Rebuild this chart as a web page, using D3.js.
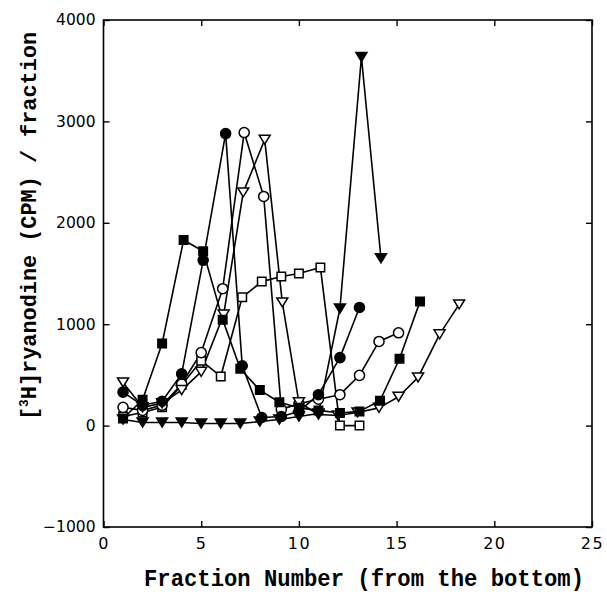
<!DOCTYPE html>
<html>
<head>
<meta charset="utf-8">
<script src="https://cdn.jsdelivr.net/npm/d3@7"></script>
<style>
  html, body { margin: 0; padding: 0; background: #fff; }
  svg { display: block; }
</style>
</head>
<body>
<svg id="chart" width="607" height="596"></svg>
<script>
// ---- Data ----
const xTicks = [0, 5, 10, 15, 20, 25];
const yTicks = [-1000, 0, 1000, 2000, 3000, 4000];

// open squares
const openSquareX = [1, 2, 3, 4, 5, 6, 7.1, 8.1, 9.1, 10, 11.1, 12.1, 13.1];
const openSquareY = [90, 130, 180, 400, 640, 485, 1265, 1420, 1470, 1500, 1560, 0, 0];

// open circles
const openCircleX = [1, 2, 3, 4, 5, 6.1, 7.2, 8.2, 9.1, 10, 11, 12.1, 13.1, 14.1, 15.1];
const openCircleY = [180, 150, 200, 410, 720, 1350, 2890, 2260, 160, 215, 260, 305, 495, 830, 915];

// open down-triangles
const openTriX = [1, 2, 3, 4, 5, 6.15, 7.15, 8.25, 9.15, 10, 11, 12, 13, 14.1, 15.1, 16.1, 17.2, 18.2];
const openTriY = [425, 180, 220, 350, 530, 1095, 2300, 2820, 1215, 230, 110, 100, 130, 175, 285, 475, 900, 1195];

// filled squares
const filledSquareX = [1, 2, 3, 4.1, 5.1, 6.1, 7, 8, 9, 10, 11, 12.1, 13.1, 14.15, 15.15, 16.2];
const filledSquareY = [70, 255, 810, 1830, 1720, 1045, 560, 350, 230, 175, 150, 125, 140, 245, 660, 1225];

// filled circles
const filledCircleX = [1, 2, 3, 4, 5.1, 6.25, 7.1, 8.1, 9.1, 10, 11, 12.1, 13.1];
const filledCircleY = [330, 200, 240, 510, 1630, 2880, 590, 80, 90, 140, 305, 670, 1165];

// filled down-triangles
const filledTriX = [1, 2, 3, 4, 5, 6, 7, 8, 9, 10, 11, 12.1, 13.2, 14.2];
const filledTriY = [60, 30, 30, 30, 20, 20, 20, 40, 60, 90, 120, 1155, 3635, 1650];

const series = [
  { name: "openSquare",   xs: openSquareX,   ys: openSquareY,   shape: "square",   filled: false },
  { name: "openCircle",   xs: openCircleX,   ys: openCircleY,   shape: "circle",   filled: false },
  { name: "openTri",      xs: openTriX,      ys: openTriY,      shape: "triangle", filled: false },
  { name: "filledSquare", xs: filledSquareX, ys: filledSquareY, shape: "square",   filled: true },
  { name: "filledCircle", xs: filledCircleX, ys: filledCircleY, shape: "circle",   filled: true },
  { name: "filledTri",    xs: filledTriX,    ys: filledTriY,    shape: "triangle", filled: true }
];

// ---- Layout ----
const L = 103.5, R = 592, T = 20, B = 527;
const svg = d3.select("#chart");

const x = d3.scaleLinear().domain([0, 25]).range([L, R]);
const y = d3.scaleLinear().domain([-1000, 4000]).range([B, T]);

// frame
svg.append("rect")
  .attr("x", L).attr("y", T).attr("width", R - L).attr("height", B - T)
  .attr("fill", "none").attr("stroke", "#000").attr("stroke-width", 1.6);

// axes (inward ticks)
const gx = svg.append("g").attr("transform", `translate(0,${B})`)
  .call(d3.axisBottom(x).tickValues(xTicks).tickSize(-6).tickPadding(11).tickFormat(d3.format("d")));
const gy = svg.append("g").attr("transform", `translate(${L},0)`)
  .call(d3.axisLeft(y).tickValues(yTicks).tickSize(-6).tickPadding(8).tickFormat(d => d < 0 ? "\u2212" + Math.abs(d) : d));
const gxt = svg.append("g").attr("transform", `translate(0,${T})`)
  .call(d3.axisTop(x).tickValues(xTicks).tickSize(-6).tickFormat(""));
const gyr = svg.append("g").attr("transform", `translate(${R},0)`)
  .call(d3.axisRight(y).tickValues(yTicks).tickSize(-6).tickFormat(""));

[gx, gy, gxt, gyr].forEach(g => {
  g.select(".domain").remove();
  g.selectAll(".tick line").attr("stroke", "#000").attr("stroke-width", 1.4);
});
gx.selectAll("text").attr("font-family", "DejaVu Sans, sans-serif").attr("font-size", 16)
  .attr("letter-spacing", 1.5).attr("fill", "#000");
gy.selectAll("text").attr("font-family", "DejaVu Sans, sans-serif").attr("font-size", 15.5)
  .attr("fill", "#000");

// ---- Lines ----
const line = d3.line().x(d => x(d[0])).y(d => y(d[1]));
series.forEach(s => {
  const pts = s.xs.map((v, i) => [v, s.ys[i]]);
  svg.append("path").datum(pts)
    .attr("d", line)
    .attr("fill", "none").attr("stroke", "#000").attr("stroke-width", 1.6)
    .attr("stroke-linejoin", "round");
});

// ---- Markers ----
const symSquare = d3.symbol().type(d3.symbolSquare).size(72);
const symCircle = d3.symbol().type(d3.symbolCircle).size(80);
const triPath = () => {
  // downward-pointing triangle
  const w = 5.5, h = 9;
  return `M${-w},${-h / 2}L${w},${-h / 2}L0,${h / 2}Z`;
};
series.forEach(s => {
  const pts = s.xs.map((v, i) => [v, s.ys[i]]);
  svg.append("g").selectAll("path").data(pts).join("path")
    .attr("transform", d => `translate(${x(d[0])},${y(d[1])})`)
    .attr("d", s.shape === "square" ? symSquare() : s.shape === "circle" ? symCircle() : triPath())
    .attr("fill", s.filled ? "#000" : "#fff")
    .attr("stroke", "#000").attr("stroke-width", 1.5);
});

// ---- Axis titles ----
svg.append("text")
  .attr("x", 364).attr("y", 586)
  .attr("text-anchor", "middle")
  .attr("font-family", "Liberation Mono, DejaVu Sans Mono, monospace")
  .attr("font-weight", "bold").attr("font-size", 23)
  .attr("textLength", 440).attr("lengthAdjust", "spacingAndGlyphs")
  .attr("fill", "#000")
  .text("Fraction Number (from the bottom)");

const yt = svg.append("text")
  .attr("transform", "translate(36,226) rotate(-90)")
  .attr("text-anchor", "middle")
  .attr("font-family", "Liberation Mono, DejaVu Sans Mono, monospace")
  .attr("font-weight", "bold").attr("font-size", 22)
  .attr("textLength", 388).attr("lengthAdjust", "spacingAndGlyphs")
  .attr("fill", "#000");
yt.append("tspan").text("[");
yt.append("tspan").attr("font-size", 13).attr("dy", -8).text("3");
yt.append("tspan").attr("dy", 8).text("H]ryanodine (CPM) / fraction");
</script>
</body>
</html>
